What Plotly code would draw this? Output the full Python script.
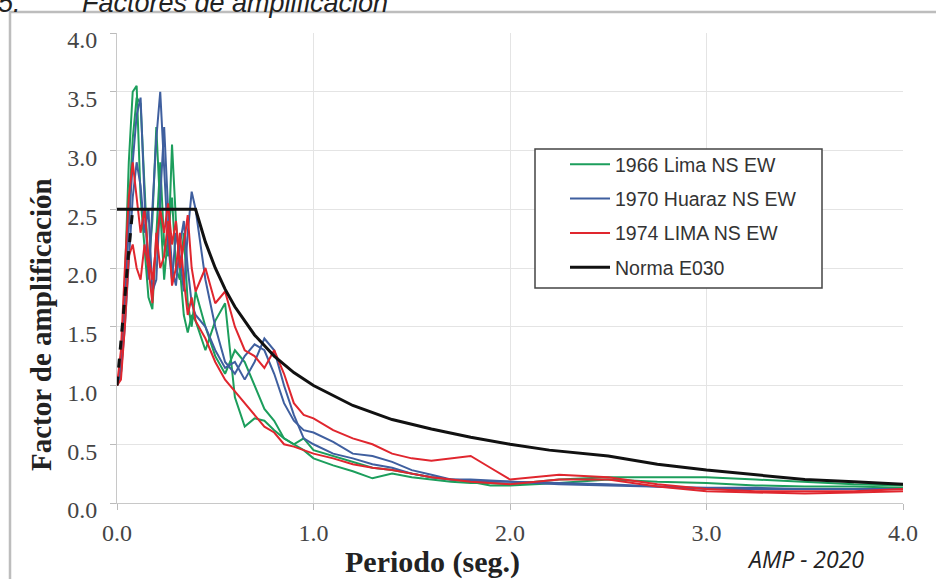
import plotly.graph_objects as go

# Periods (s) shared by the recorded spectra
PERIODS = [0.00, 0.02, 0.04, 0.06, 0.08, 0.10, 0.12, 0.14, 0.16, 0.18,
           0.20, 0.22, 0.24, 0.26, 0.28, 0.30, 0.32, 0.34, 0.36, 0.38,
           0.40, 0.45, 0.50, 0.55, 0.60, 0.65, 0.70, 0.75, 0.80, 0.85,
           0.90, 0.95, 1.00, 1.10, 1.20, 1.30, 1.40, 1.50, 1.60, 1.70,
           1.80, 1.90, 2.00, 2.25, 2.50, 2.75, 3.00, 3.25, 3.50, 3.75, 4.00]

LIMA_1966_NS = [1.00, 1.15, 1.90, 2.90, 3.50, 3.55, 2.60, 2.20, 1.75, 1.65,
                2.30, 2.90, 2.20, 2.10, 3.05, 2.40, 2.00, 1.60, 1.45, 1.60,
                1.55, 1.30, 1.55, 1.70, 0.90, 0.65, 0.72, 0.70, 0.62, 0.55,
                0.50, 0.45, 0.38, 0.32, 0.27, 0.21, 0.25, 0.22, 0.20, 0.18,
                0.17, 0.17, 0.16, 0.20, 0.22, 0.22, 0.22, 0.20, 0.18, 0.16, 0.15]
LIMA_1966_EW = [1.00, 1.10, 1.60, 2.50, 3.10, 3.45, 3.40, 2.70, 2.00, 2.40,
                3.20, 2.50, 1.90, 2.30, 2.60, 2.00, 1.90, 2.30, 1.70, 1.50,
                1.80, 1.50, 1.25, 1.10, 1.30, 1.20, 1.00, 0.80, 0.70, 0.55,
                0.50, 0.55, 0.45, 0.40, 0.35, 0.30, 0.28, 0.25, 0.22, 0.20,
                0.18, 0.15, 0.15, 0.17, 0.20, 0.18, 0.17, 0.15, 0.14, 0.14, 0.13]
HUARAZ_1970_NS = [1.00, 1.20, 1.80, 2.40, 2.90, 3.30, 3.45, 2.60, 1.90, 2.50,
                  3.10, 3.50, 2.80, 2.20, 1.90, 2.30, 2.10, 1.80, 2.30, 2.65,
                  2.50, 1.90, 1.50, 1.20, 1.10, 1.25, 1.35, 1.30, 1.10, 0.85,
                  0.70, 0.62, 0.60, 0.52, 0.42, 0.40, 0.35, 0.28, 0.24, 0.20,
                  0.20, 0.19, 0.18, 0.16, 0.15, 0.14, 0.13, 0.13, 0.12, 0.12, 0.12]
HUARAZ_1970_EW = [1.00, 1.10, 1.50, 2.10, 2.60, 2.90, 2.70, 2.30, 2.50, 1.80,
                  1.90, 2.60, 3.20, 2.50, 2.00, 1.85, 2.20, 2.40, 2.00, 1.70,
                  1.60, 1.50, 1.30, 1.15, 1.20, 1.05, 1.20, 1.40, 1.30, 1.00,
                  0.75, 0.55, 0.50, 0.42, 0.38, 0.33, 0.30, 0.25, 0.22, 0.20,
                  0.19, 0.18, 0.18, 0.17, 0.16, 0.14, 0.12, 0.12, 0.12, 0.12, 0.12]
LIMA_1974_NS = [1.00, 1.30, 2.00, 2.60, 2.90, 2.60, 2.30, 2.50, 2.10, 1.90,
                2.20, 2.50, 2.30, 2.55, 2.20, 2.40, 2.00, 2.20, 2.45, 2.00,
                1.80, 2.00, 1.70, 1.80, 1.50, 1.30, 1.25, 1.15, 1.30, 1.10,
                0.85, 0.75, 0.72, 0.62, 0.55, 0.50, 0.42, 0.38, 0.36, 0.38,
                0.40, 0.30, 0.20, 0.24, 0.22, 0.16, 0.12, 0.10, 0.10, 0.10, 0.12]
LIMA_1974_EW = [1.00, 1.05, 1.50, 2.10, 2.20, 2.00, 1.90, 2.20, 2.00, 1.70,
                2.30, 2.00, 2.10, 2.40, 1.85, 2.00, 2.30, 1.90, 1.60, 1.75,
                1.55, 1.40, 1.20, 1.05, 0.95, 0.85, 0.75, 0.65, 0.60, 0.50,
                0.48, 0.45, 0.42, 0.38, 0.33, 0.30, 0.28, 0.25, 0.22, 0.20,
                0.18, 0.17, 0.16, 0.20, 0.20, 0.14, 0.10, 0.09, 0.08, 0.09, 0.10]

# Norma E030 design spectrum
NORMA_T = [0.00, 0.40, 0.45, 0.50, 0.55, 0.60, 0.70, 0.80, 0.90, 1.00,
           1.20, 1.40, 1.60, 1.80, 2.00, 2.20, 2.50, 2.75, 3.00, 3.25,
           3.50, 3.75, 4.00]
NORMA_C = [2.50, 2.50, 2.22, 2.00, 1.82, 1.67, 1.43, 1.25, 1.11, 1.00,
           0.83, 0.71, 0.63, 0.56, 0.50, 0.45, 0.40, 0.33, 0.28, 0.24,
           0.20, 0.18, 0.16]
RISE_T = [0.00, 0.02, 0.04, 0.06, 0.08]
RISE_C = [1.00, 1.35, 1.75, 2.15, 2.50]

Y_TICKS = [0.0, 0.5, 1.0, 1.5, 2.0, 2.5, 3.0, 3.5, 4.0]
X_TICKS = [0.0, 1.0, 2.0, 3.0, 4.0]

GREEN = "#1c9e5c"
BLUE = "#3f5f9f"
RED = "#e0262e"
SERIF = "Liberation Serif, Times New Roman, serif"
SANS = "Liberation Sans, Arial, sans-serif"

fig = go.Figure()

series = [
    ("1966 Lima NS EW", LIMA_1966_NS, GREEN, True),
    ("1966 Lima NS EW", LIMA_1966_EW, GREEN, False),
    ("1970 Huaraz NS EW", HUARAZ_1970_NS, BLUE, True),
    ("1970 Huaraz NS EW", HUARAZ_1970_EW, BLUE, False),
    ("1974 LIMA NS EW", LIMA_1974_NS, RED, True),
    ("1974 LIMA NS EW", LIMA_1974_EW, RED, False),
]
for name, values, color, show in series:
    fig.add_trace(go.Scatter(
        x=PERIODS, y=values, mode="lines", name=name,
        legendgroup=name, showlegend=show,
        line=dict(color=color, width=2),
    ))

fig.add_trace(go.Scatter(
    x=NORMA_T, y=NORMA_C, mode="lines", name="Norma E030",
    legendgroup="Norma E030", line=dict(color="#111111", width=3),
))
fig.add_trace(go.Scatter(
    x=RISE_T, y=RISE_C, mode="lines", showlegend=False,
    legendgroup="Norma E030", line=dict(color="#111111", width=3, dash="dash"),
))

W, H = 936, 579
L, R, T, B = 117, 33, 33, 76


def px_x(p):
    return (p - L) / (W - L - R)


def px_y(p):
    return (H - B - p) / (H - T - B)


fig.update_layout(
    width=W, height=H,
    margin=dict(l=L, r=R, t=T, b=B),
    paper_bgcolor="white",
    plot_bgcolor="white",
    showlegend=True,
    legend=dict(
        x=px_x(565), y=px_y(145), xanchor="left", yanchor="top",
        bgcolor="rgba(0,0,0,0)", borderwidth=0,
        font=dict(family=SANS, size=19.5, color="#333333"),
        traceorder="grouped", tracegroupgap=6,
        itemwidth=40,
    ),
    xaxis=dict(
        range=[0, 4], tickvals=X_TICKS, tickformat=".1f",
        showgrid=True, gridcolor="#e4e4e4", gridwidth=1,
        zeroline=False, showline=True, linecolor="#c8c8c8", linewidth=1,
        ticks="outside", ticklen=6, tickcolor="#bbbbbb",
        ticklabelstandoff=2,
        tickfont=dict(family=SERIF, size=24, color="#444444"),
    ),
    yaxis=dict(
        range=[0, 4], tickvals=Y_TICKS, tickformat=".1f",
        showgrid=True, gridcolor="#e4e4e4", gridwidth=1,
        zeroline=False, showline=True, linecolor="#c8c8c8", linewidth=1,
        ticks="outside", ticklen=6, tickcolor="#bbbbbb",
        ticklabelstandoff=8, ticklabelshift=7,
        tickfont=dict(family=SERIF, size=24, color="#444444"),
    ),
    shapes=[
        dict(type="rect", xref="paper", yref="paper",
             x0=px_x(10), x1=px_x(960), y0=px_y(600), y1=px_y(12),
             line=dict(color="#bdbdbd", width=2.5), fillcolor="rgba(0,0,0,0)",
             layer="below"),
        dict(type="rect", xref="paper", yref="paper",
             x0=px_x(535), x1=px_x(822), y0=px_y(288), y1=px_y(149),
             line=dict(color="#444444", width=1.5), fillcolor="white",
             layer="above"),
    ],
    annotations=[
        dict(text="<b>Factor de amplificación</b>", textangle=-90,
             xref="paper", yref="paper", x=px_x(41), y=px_y(325),
             xanchor="center", yanchor="middle",
             showarrow=False, font=dict(family=SERIF, size=29, color="#222222")),
        dict(text="<b>Periodo (seg.)</b>",
             xref="paper", yref="paper", x=px_x(432), y=px_y(562),
             xanchor="center", yanchor="middle",
             showarrow=False, font=dict(family=SERIF, size=30, color="#222222")),
        dict(text="<i>AMP - 2020</i>",
             xref="paper", yref="paper", x=px_x(805), y=px_y(559),
             xanchor="center", yanchor="middle",
             showarrow=False, font=dict(family="Open Sans, sans-serif", size=23,
                                        color="#222222")),
        dict(text="<i>5.</i>", xref="paper", yref="paper",
             x=px_x(-4), y=px_y(3), xanchor="left", yanchor="middle",
             showarrow=False, font=dict(family=SANS, size=27, color="#222222")),
        dict(text="<i>Factores de amplificación</i>", xref="paper", yref="paper",
             x=px_x(80), y=px_y(3), xanchor="left", yanchor="middle",
             showarrow=False, font=dict(family=SANS, size=27, color="#222222")),
    ],
)

fig.write_html("out.html", config={"displayModeBar": False},
               post_script="document.body.style.margin='0';")
